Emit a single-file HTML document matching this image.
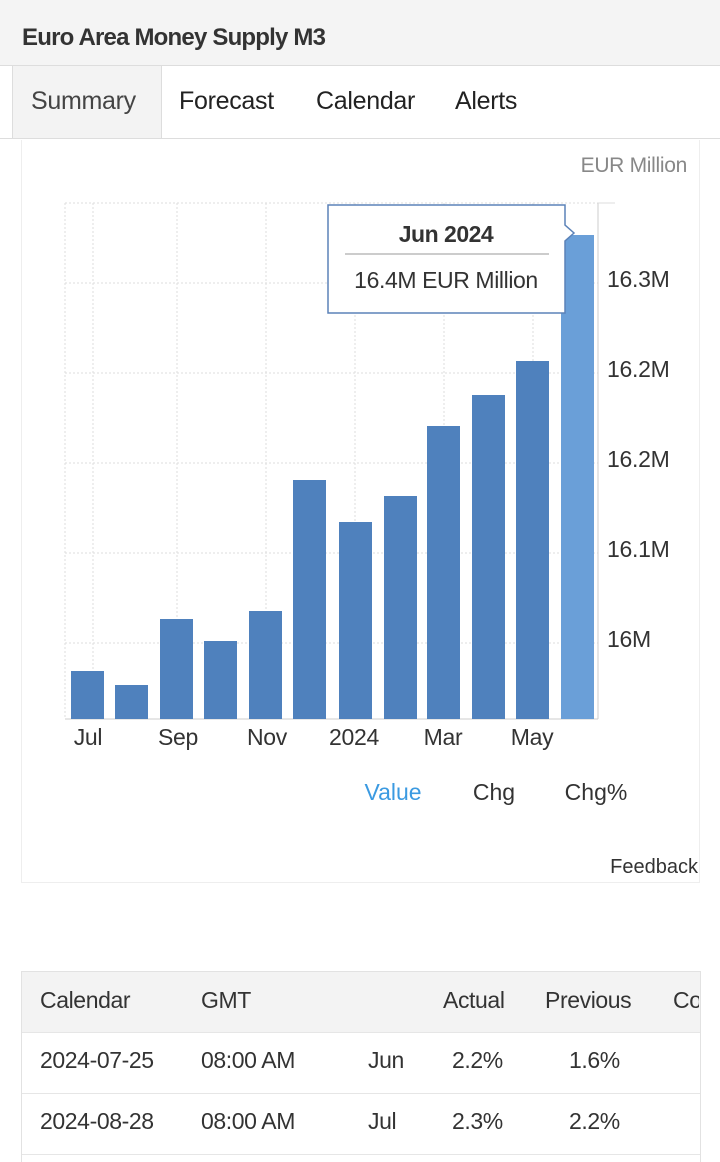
<!DOCTYPE html>
<html><head><meta charset="utf-8"><style>
body{margin:0;width:720px;height:1160px;overflow:hidden;background:#fff;font-family:"Liberation Sans",Roboto,sans-serif;color:#222;position:relative}
.a{position:absolute;white-space:nowrap}
</style></head><body>
<div class="a" style="left:0;top:0;width:720px;height:65px;background:#f4f4f4;border-bottom:1px solid #ddd"></div>
<div class="a" style="left:22px;top:24px;font-size:24px;font-weight:bold;color:#333;letter-spacing:-0.8px">Euro Area Money Supply M3</div>
<div class="a" style="left:0;top:66px;width:720px;height:72px;border-bottom:1px solid #ddd"></div>
<div class="a" style="left:12px;top:66px;width:148px;height:72px;background:#f3f3f3;border-left:1px solid #ddd;border-right:1px solid #ddd"></div>
<div class="a" style="left:31px;top:87px;font-size:25px;color:#444;letter-spacing:-0.3px">Summary</div>
<div class="a" style="left:179px;top:87px;font-size:25px;letter-spacing:-0.3px">Forecast</div>
<div class="a" style="left:316px;top:87px;font-size:25px;letter-spacing:-0.3px">Calendar</div>
<div class="a" style="left:455px;top:87px;font-size:25px;letter-spacing:-0.3px">Alerts</div>
<div class="a" style="left:21px;top:140px;width:677px;height:742px;border:1px solid #eee;border-top:none"></div>
<div class="a" style="right:33px;top:154px;font-size:21px;color:#888;letter-spacing:-0.3px">EUR Million</div>
<svg class="a" style="left:0;top:0" width="720" height="900">
<g stroke="#ddd" stroke-dasharray="2,2" fill="none">
<line x1="65" y1="203" x2="598" y2="203"/><line x1="65" y1="283" x2="598" y2="283"/><line x1="65" y1="373" x2="598" y2="373"/><line x1="65" y1="463" x2="598" y2="463"/><line x1="65" y1="553" x2="598" y2="553"/><line x1="65" y1="643" x2="598" y2="643"/>
<line x1="65" y1="203" x2="65" y2="719"/><line x1="93" y1="203" x2="93" y2="719"/><line x1="177" y1="203" x2="177" y2="719"/><line x1="266" y1="203" x2="266" y2="719"/><line x1="355" y1="203" x2="355" y2="719"/><line x1="444" y1="203" x2="444" y2="719"/><line x1="533" y1="203" x2="533" y2="719"/>
</g>
<line x1="598" y1="203" x2="598" y2="719" stroke="#ccc"/>
<line x1="598" y1="203" x2="615" y2="203" stroke="#ddd"/>
<line x1="65" y1="719" x2="598" y2="719" stroke="#ccc"/>
<g fill="#4f81bd">
<rect x="71" y="671" width="33" height="48"/><rect x="115" y="685" width="33" height="34"/><rect x="160" y="619" width="33" height="100"/><rect x="204" y="641" width="33" height="78"/><rect x="249" y="611" width="33" height="108"/><rect x="293" y="480" width="33" height="239"/><rect x="339" y="522" width="33" height="197"/><rect x="384" y="496" width="33" height="223"/><rect x="427" y="426" width="33" height="293"/><rect x="472" y="395" width="33" height="324"/><rect x="516" y="361" width="33" height="358"/>
</g>
<rect x="561" y="235" width="33" height="484" fill="#6a9fd8"/>
<g font-size="23" fill="#333" font-family="Liberation Sans, sans-serif" letter-spacing="-0.3">
<text x="607" y="287">16.3M</text><text x="607" y="377">16.2M</text><text x="607" y="467">16.2M</text><text x="607" y="557">16.1M</text><text x="607" y="647">16M</text>
<g text-anchor="middle"><text x="88" y="745">Jul</text><text x="178" y="745">Sep</text><text x="267" y="745">Nov</text><text x="354" y="745">2024</text><text x="443" y="745">Mar</text><text x="532" y="745">May</text></g>
</g>
<path d="M328,205 H565 V225 L574,233 L565,241 V313 H328 Z" fill="#fff" stroke="#5b82b8" stroke-width="1.5"/>
<line x1="345" y1="254" x2="549" y2="254" stroke="#999"/>
<text x="446" y="242" text-anchor="middle" font-size="23" font-weight="bold" fill="#333" font-family="Liberation Sans, sans-serif" letter-spacing="-0.5">Jun 2024</text>
<text x="446" y="288" text-anchor="middle" font-size="23" fill="#333" font-family="Liberation Sans, sans-serif" letter-spacing="-0.4">16.4M EUR Million</text>
<g font-size="23" text-anchor="middle" font-family="Liberation Sans, sans-serif">
<text x="393" y="800" fill="#3b9ae1">Value</text><text x="494" y="800" fill="#333">Chg</text><text x="596" y="800" fill="#333">Chg%</text>
</g>
<text x="698" y="873" text-anchor="end" font-size="20" fill="#333" font-family="Liberation Sans, sans-serif">Feedback</text>
</svg>
<div class="a" style="left:21px;top:971px;width:678px;height:190px;border:1px solid #e2e2e2;border-bottom:none;overflow:hidden">
<div style="height:60px;background:#f3f3f3;border-bottom:1px solid #e6e6e6"></div>
<div style="height:60px;border-bottom:1px solid #e6e6e6"></div>
<div style="height:60px;border-bottom:1px solid #e6e6e6"></div>
</div>
<div class="a" style="left:0;top:0;font-size:23px;color:#333;letter-spacing:-0.4px">
<div class="a" style="left:40px;top:987px">Calendar</div><div class="a" style="left:201px;top:987px">GMT</div><div class="a" style="left:443px;top:987px">Actual</div><div class="a" style="left:545px;top:987px">Previous</div><div class="a" style="left:673px;top:987px;width:26px;overflow:hidden">Co</div>
<div class="a" style="left:40px;top:1047px">2024-07-25</div><div class="a" style="left:201px;top:1047px">08:00 AM</div><div class="a" style="left:368px;top:1047px">Jun</div><div class="a" style="left:452px;top:1047px">2.2%</div><div class="a" style="left:569px;top:1047px">1.6%</div>
<div class="a" style="left:40px;top:1108px">2024-08-28</div><div class="a" style="left:201px;top:1108px">08:00 AM</div><div class="a" style="left:368px;top:1108px">Jul</div><div class="a" style="left:452px;top:1108px">2.3%</div><div class="a" style="left:569px;top:1108px">2.2%</div>
</div>
</body></html>
